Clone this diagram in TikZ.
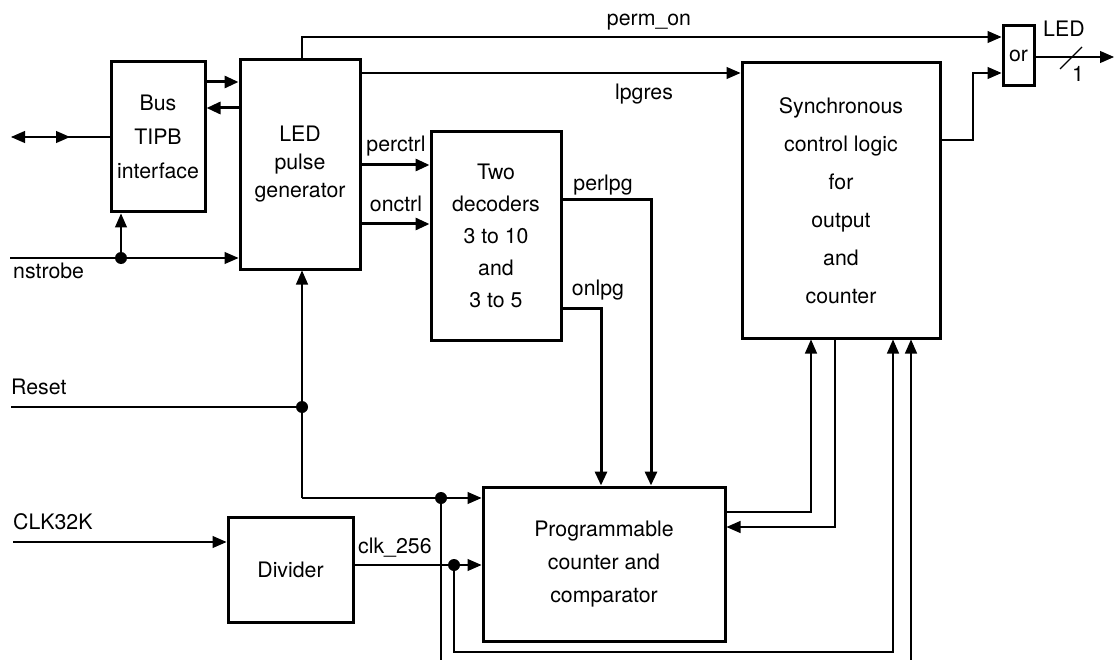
\documentclass[tikz,border=0pt]{standalone}
\usepackage{fontspec}
\setmainfont{TeX Gyre Heros}
\usetikzlibrary{arrows.meta,calc}
\begin{document}
\begin{tikzpicture}[x=1pt,y=-1pt,
  blk/.style={draw,line width=3pt,inner sep=0pt,align=center,font=\fontsize{21.3}{#1}\selectfont},
  blk/.default=33,
  wire/.style={line width=1.1pt},
  bus/.style={line width=3pt},
  tip/.style={-{Triangle[length=14pt,width=12pt]}},
  lbl/.style={inner sep=0pt,font=\fontsize{21.3}{24}\selectfont},
  dot/.style={circle,fill,inner sep=0pt,minimum size=12pt}]
\useasboundingbox (0,0) rectangle (1115,660);

% blocks
\node[blk=34,minimum width=94pt,minimum height=150pt] (bus) at (158,137) {Bus\\TIPB\\interface};
\node[blk=28,minimum width=120pt,minimum height=209pt] (led) at (300,164.5) {LED\\pulse\\generator};
\node[blk=32,minimum width=130pt,minimum height=208pt] (dec) at (496,236) {Two\\decoders\\3 to 10\\and\\3 to 5};
\node[blk=38,minimum width=198pt,minimum height=275pt] (sync) at (841,200.5) {Synchronous\\control logic\\for\\output\\and\\counter};
\node[blk,minimum width=31pt,minimum height=60pt] (or) at (1018.5,56) {or};
\node[blk,minimum width=125pt,minimum height=105pt] (div) at (290.5,569.5) {Divider};
\node[blk=33,minimum width=242pt,minimum height=154pt] (prog) at (604,564) {Programmable\\counter and\\comparator};

% coordinates
\coordinate (busA) at (11,137);
\coordinate (busB) at (70,137);
\coordinate (busC) at (24,137);
\coordinate (nsL) at (10,258);
\coordinate (nsJ) at (121,258);
\coordinate (rsL) at (11,407);
\coordinate (rsJ) at (302,407);
\coordinate (rsB) at (302,498);
\coordinate (rD) at (441,498);
\coordinate (rE) at (441,660);
\coordinate (ckL) at (13,542);
\coordinate (cD) at (454,565);
\coordinate (lpA) at (454,652);
\coordinate (lpB) at (893,652);
\coordinate (inE) at (911,660);
\coordinate (p1) at (811,512);
\coordinate (p2) at (835,527);
\coordinate (pm) at (302,37);
\coordinate (so) at (973,140);
\coordinate (so2) at (973,73);
\coordinate (outE) at (1114,57);
\coordinate (pl) at (651,200);
\coordinate (ol) at (601,308);

% bus <-> led
\draw[bus,tip] (bus.east |- 0,82) -- (led.west |- 0,82);
\draw[bus,tip] (led.west |- 0,108) -- (bus.east |- 0,108);
% external bus
\draw[wire,{Triangle[length=14pt,width=12pt]}-] (busA) -- (bus.west |- busA);
\draw[wire,tip] (busC) -- (busB);
% nstrobe
\draw[wire,tip] (nsL) -- (led.west |- nsL);
\draw[wire,tip] (nsJ) -- (nsJ |- bus.south);
\node[dot] at (nsJ) {};
% reset
\draw[wire] (rsL) -- (rsJ);
\draw[wire,tip] (rsB) -- (rsB |- led.south);
\draw[wire,tip] (rsB) -- (prog.west |- rsB);
\draw[wire] (rD) -- (rE);
\node[dot] at (rsJ) {};
\node[dot] at (rD) {};
% clock
\draw[wire,tip] (ckL) -- (div.west |- ckL);
\draw[wire,tip] (div.east |- cD) -- (prog.west |- cD);
\draw[wire,tip] (cD) -- (lpA) -- (lpB) -- (lpB |- sync.south);
\node[dot] at (cD) {};
\draw[wire,tip] (inE) -- (inE |- sync.south);
% prog <-> sync
\draw[wire,tip] (prog.east |- p1) -- (p1) -- (p1 |- sync.south);
\draw[wire,tip] (p2 |- sync.south) -- (p2) -- (prog.east |- p2);
% lpgres, perm_on
\draw[wire,tip] (led.east |- 0,73) -- (sync.west |- 0,73);
\draw[wire,tip] (pm |- led.north) -- (pm) -- (or.west |- pm);
\draw[wire,tip] (sync.east |- so) -- (so) -- (so2) -- (or.west |- so2);
% output
\draw[wire,tip] (or.east |- outE) -- (outE);
\draw[wire] (1060,69) -- (1082,47);
% decoder paths
\draw[bus,tip] (led.east |- 0,165) -- (dec.west |- 0,165);
\draw[bus,tip] (led.east |- 0,224) -- (dec.west |- 0,224);
\draw[bus,tip] (dec.east |- pl) -- (pl) -- (pl |- prog.north);
\draw[bus,tip] (dec.east |- ol) -- (ol) -- (ol |- prog.north);

% labels
\node[lbl,anchor=base] at (649,26) {perm\_on};
\node[lbl,anchor=base] at (644,100) {lpgres};
\node[lbl,anchor=base] at (396,152) {perctrl};
\node[lbl,anchor=base] at (396,212) {onctrl};
\node[lbl,anchor=base] at (603,191) {perlpg};
\node[lbl,anchor=base] at (598,295) {onlpg};
\node[lbl,anchor=base west] at (13,278) {nstrobe};
\node[lbl,anchor=base west] at (11,394) {Reset};
\node[lbl,anchor=base west] at (13,529) {CLK32K};
\node[lbl,anchor=base west] at (358,553) {clk\_256};
\node[lbl,anchor=base west] at (1043,37) {LED};
\node[lbl,anchor=base] at (1078,82) {1};
\end{tikzpicture}
\end{document}
